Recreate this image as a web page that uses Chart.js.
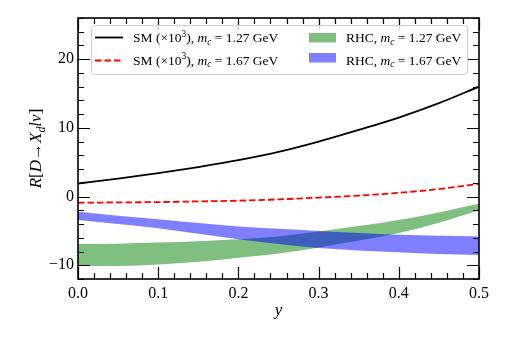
<!DOCTYPE html>
<html>
<head>
<meta charset="utf-8">
<script src="https://cdn.jsdelivr.net/npm/chart.js@4/dist/chart.umd.min.js"></script>
<style>
  html, body { margin: 0; padding: 0; background: #fff; }
  #wrap { width: 510px; height: 340px; }
</style>
</head>
<body>
<div id="wrap"><canvas id="chart" width="510" height="340"></canvas></div>
<script>
// data
const yPoints = [0, 0.05, 0.1, 0.15, 0.2, 0.25, 0.3, 0.35, 0.4, 0.45, 0.5];
const sm127 = [1.9, 2.6, 3.4, 4.3, 5.3, 6.5, 8.0, 9.7, 11.5, 13.6, 16.0];
const sm167 = [-0.9, -0.85, -0.8, -0.7, -0.6, -0.4, -0.15, 0.15, 0.55, 1.1, 1.85];
const rhc127Upper = [-6.9, -6.85, -6.7, -6.5, -6.2, -5.8, -5.1, -4.3, -3.4, -2.3, -1.05];
const rhc127Lower = [-10.1, -10.1, -9.9, -9.5, -8.9, -8.3, -7.4, -6.4, -5.3, -3.8, -2.0];
const rhc167Upper = [-2.2, -2.8, -3.3, -3.85, -4.35, -4.7, -5.0, -5.3, -5.55, -5.7, -5.8];
const rhc167Lower = [-3.4, -4.0, -4.6, -5.4, -6.2, -6.9, -7.5, -7.85, -8.1, -8.35, -8.5];

const xTickLabels = [0, 0.1, 0.2, 0.3, 0.4, 0.5];
const yTickLabels = [-10, 0, 10, 20];

const SERIF = "'Liberation Serif', 'DejaVu Serif', serif";

function pts(vals) {
    return vals.map((v, i) => ({ x: yPoints[i], y: v }));
}

// draw a list of [text, style] runs; style: n, i, sub, sup
function drawRuns(ctx, runs, x, y, size, measureOnly) {
    let cx = x;
    runs.forEach(([t, s]) => {
        let fs = size, dy = 0, it = false;
        if (s === 'i') it = true;
        if (s === 'sub') { fs = size * 0.7; dy = size * 0.22; it = true; }
        if (s === 'sup') { fs = size * 0.7; dy = -size * 0.38; }
        ctx.font = (it ? 'italic ' : '') + fs + 'px ' + SERIF;
        if (!measureOnly) ctx.fillText(t, cx, y + dy);
        cx += ctx.measureText(t).width;
    });
    return cx - x;
}

function smRuns(mass) {
    return [['SM (×10', 'n'], ['3', 'sup'], ['), ', 'n'], ['m', 'i'], ['c', 'sub'], [' = ' + mass + ' GeV', 'n']];
}
function rhcRuns(mass) {
    return [['RHC, ', 'n'], ['m', 'i'], ['c', 'sub'], [' = ' + mass + ' GeV', 'n']];
}

const decorPlugin = {
    id: 'decor',
    afterDatasetsDraw(chart) {
        const ctx = chart.ctx;
        const a = chart.chartArea;
        const xs = chart.scales.x, ys = chart.scales.y;
        ctx.save();
        ctx.strokeStyle = '#000';
        ctx.lineWidth = 1.2;
        // inward ticks on all four sides
        for (let i = 0; i <= 25; i++) {
            const px = Math.round(xs.getPixelForValue(i * 0.02)) + 0.5;
            const len = i % 5 === 0 ? 12 : 6;
            ctx.beginPath();
            ctx.moveTo(px, a.bottom); ctx.lineTo(px, a.bottom - len);
            ctx.moveTo(px, a.top); ctx.lineTo(px, a.top + len);
            ctx.stroke();
        }
        for (let v = -12; v <= 26; v += 2) {
            const py = Math.round(ys.getPixelForValue(v)) + 0.5;
            const len = v % 10 === 0 ? 12 : 6;
            ctx.beginPath();
            ctx.moveTo(a.left, py); ctx.lineTo(a.left + len, py);
            ctx.moveTo(a.right, py); ctx.lineTo(a.right - len, py);
            ctx.stroke();
        }
        ctx.lineWidth = 1.6;
        ctx.strokeRect(a.left, a.top, a.right - a.left, a.bottom - a.top);
        ctx.restore();
    },
    afterDraw(chart) {
        const ctx = chart.ctx;
        ctx.save();
        // legend frame
        ctx.fillStyle = 'rgba(255,255,255,0.8)';
        ctx.strokeStyle = '#cccccc';
        ctx.lineWidth = 1;
        ctx.beginPath();
        ctx.roundRect(91.5, 25.5, 376, 49, 3);
        ctx.fill();
        ctx.stroke();

        // line handles
        ctx.lineWidth = 1.8;
        ctx.strokeStyle = '#000';
        ctx.setLineDash([]);
        ctx.beginPath(); ctx.moveTo(95, 37.5); ctx.lineTo(123, 37.5); ctx.stroke();
        ctx.strokeStyle = '#ff0000';
        ctx.setLineDash([6.5, 3]);
        ctx.beginPath(); ctx.moveTo(95, 60.5); ctx.lineTo(123, 60.5); ctx.stroke();
        ctx.setLineDash([]);

        // patch handles
        ctx.fillStyle = 'rgba(0,128,0,0.5)';
        ctx.fillRect(309, 33, 27, 9.5);
        ctx.fillStyle = 'rgba(0,0,255,0.5)';
        ctx.fillRect(309, 53, 27, 9.5);

        ctx.fillStyle = '#000';
        ctx.textBaseline = 'alphabetic';
        ctx.textAlign = 'left';
        drawRuns(ctx, smRuns('1.27'), 133, 42, 13.5);
        drawRuns(ctx, smRuns('1.67'), 133, 64.5, 13.5);
        drawRuns(ctx, rhcRuns('1.27'), 346, 42, 13.5);
        drawRuns(ctx, rhcRuns('1.67'), 346, 64.5, 13.5);

        // axis titles
        const a = chart.chartArea;
        const yRuns = [['R', 'i'], ['[', 'n'], ['D', 'i'], ['→', 'n'], ['X', 'i'], ['d', 'sub'], ['l', 'i'], ['ν', 'i'], [']', 'n']];
        ctx.translate(35, (a.top + a.bottom) / 2);
        ctx.rotate(-Math.PI / 2);
        const w = drawRuns(ctx, yRuns, 0, 0, 17, true);
        drawRuns(ctx, yRuns, -w / 2, 6, 17);
        ctx.setTransform(1, 0, 0, 1, 0, 0);
        const xw = drawRuns(ctx, [['y', 'i']], 0, 0, 17, true);
        drawRuns(ctx, [['y', 'i']], (a.left + a.right) / 2 - xw / 2, 315, 17);
        ctx.restore();
    }
};

const lineBase = { pointRadius: 0, cubicInterpolationMode: 'monotone' };

new Chart(document.getElementById('chart'), {
    type: 'line',
    data: {
        datasets: [
            { ...lineBase, label: 'SM 1.27', data: pts(sm127), borderColor: '#000', borderWidth: 1.8, fill: false },
            { ...lineBase, label: 'SM 1.67', data: pts(sm167), borderColor: '#ff0000', borderWidth: 1.8, borderDash: [6.5, 3], fill: false },
            { ...lineBase, label: 'RHC 1.67 up', data: pts(rhc167Upper), borderWidth: 0, borderColor: 'rgba(0,0,0,0)', fill: false },
            { ...lineBase, label: 'RHC 1.67', data: pts(rhc167Lower), borderWidth: 0, borderColor: 'rgba(0,0,0,0)', fill: '-1', backgroundColor: 'rgba(0,0,255,0.5)' },
            { ...lineBase, label: 'RHC 1.27 up', data: pts(rhc127Upper), borderWidth: 0, borderColor: 'rgba(0,0,0,0)', fill: false },
            { ...lineBase, label: 'RHC 1.27', data: pts(rhc127Lower), borderWidth: 0, borderColor: 'rgba(0,0,0,0)', fill: '-1', backgroundColor: 'rgba(0,128,0,0.5)' }
        ]
    },
    options: {
        responsive: false,
        animation: false,
        events: [],
        layout: { padding: { left: 0, right: 31, top: 18, bottom: 0 } },
        plugins: {
            legend: { display: false },
            tooltip: { enabled: false }
        },
        scales: {
            x: {
                type: 'linear',
                min: 0, max: 0.5,
                grid: { display: false, drawTicks: false },
                border: { display: false },
                afterBuildTicks: s => { s.ticks = xTickLabels.map(v => ({ value: v })); },
                afterFit: s => { s.height = 61; },
                ticks: {
                    color: '#000', padding: 5, maxRotation: 0,
                    font: { family: SERIF, size: 16 },
                    callback: v => v.toFixed(1)
                }
            },
            y: {
                min: -12, max: 26,
                grid: { display: false, drawTicks: false },
                border: { display: false },
                afterBuildTicks: s => { s.ticks = yTickLabels.map(v => ({ value: v })); },
                afterFit: s => { s.width = 78; },
                ticks: {
                    color: '#000', padding: 4,
                    font: { family: SERIF, size: 16 },
                    callback: v => (v < 0 ? '−' + Math.abs(v) : String(v))
                }
            }
        }
    },
    plugins: [decorPlugin]
});
</script>
</body>
</html>
